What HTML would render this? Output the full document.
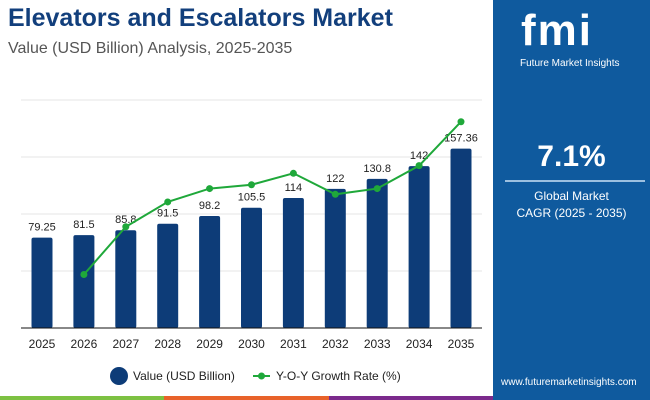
<!DOCTYPE html>
<html><head><meta charset="utf-8"><style>
body{margin:0;width:650px;height:400px;overflow:hidden;background:#fff;font-family:"Liberation Sans",sans-serif;position:relative}
.t{position:absolute;white-space:nowrap}
</style></head><body>
<div class="t" style="left:8px;top:4px;font-size:25px;font-weight:bold;color:#123f7c">Elevators and Escalators Market</div>
<div class="t" style="left:8px;top:40px;font-size:16px;color:#555">Value (USD Billion) Analysis, 2025-2035</div>
<div style="position:absolute;left:493px;top:0;width:157px;height:400px;background:#0f5a9e">
 <div class="t" style="left:28px;top:6px;font-size:44px;font-weight:bold;color:#fff;letter-spacing:2px">fmi</div>
 <div class="t" style="left:27px;top:58px;font-size:10px;color:#fff">Future Market Insights</div>
 <div class="t" style="left:0;width:157px;text-align:center;top:140px;font-size:30px;font-weight:bold;color:#fff">7.1%</div>
 <div style="position:absolute;left:12px;top:180px;width:140px;height:2px;background:#9cc0e0"></div>
 <div class="t" style="left:0;width:157px;text-align:center;top:188px;font-size:12px;line-height:17px;color:#fff">Global Market<br>CAGR (2025 - 2035)</div>
 <div class="t" style="left:8px;top:377px;font-size:10px;color:#fff">www.futuremarketinsights.com</div>
</div>
<div style="position:absolute;left:0;top:396px;width:493px;height:4px;display:flex">
 <div style="flex:1;background:#7dc142"></div><div style="flex:1;background:#e8622a"></div><div style="flex:1;background:#7b2a8c"></div>
</div>
<svg id="c" width="493" height="396" style="position:absolute;left:0;top:0" font-family="Liberation Sans, sans-serif"></svg>
<script>
const years=["2025","2026","2027","2028","2029","2030","2031","2032","2033","2034","2035"];
const values=[79.25,81.5,85.8,91.5,98.2,105.5,114,122,130.8,142,157.36];
const valueLabels=["79.25","81.5","85.8","91.5","98.2","105.5","114","122","130.8","142","157.36"];
const growth=[null,2.8,5.3,6.6,7.3,7.5,8.1,7.0,7.3,8.5,10.8];
const gridVals=[50,100,150,200];
const svg=document.getElementById('c');const NS='http://www.w3.org/2000/svg';
function mk(t,a,p){const e=document.createElementNS(NS,t);for(const k in a)e.setAttribute(k,a[k]);(p||svg).appendChild(e);return e;}
const base=328,x0=21,x1=482;
const xC=i=>42+i*41.9;
const yV=v=>base-v*1.14;
const yG=v=>base-v*19.1;
gridVals.forEach(g=>{const l=mk('line',{x1:x0,x2:x1,y1:yV(g),y2:yV(g),stroke:'#e6e6e6'});

});
values.forEach((v,i)=>{const r=mk('rect',{x:xC(i)-10.5,y:yV(v),width:21,height:v*1.14,fill:'#0d3c78',rx:2});


const t=mk('text',{x:xC(i),y:yV(v)-7,'text-anchor':'middle','font-size':11,fill:'#222'});t.textContent=valueLabels[i];


const y=mk('text',{x:xC(i),y:348,'text-anchor':'middle','font-size':12,fill:'#222'});y.textContent=years[i];

});
const ax=mk('line',{x1:x0,x2:x1,y1:base,y2:base,stroke:'#111','stroke-width':1});


let pts=[];growth.forEach((g,i)=>{if(g!==null)pts.push(xC(i)+','+yG(g));});
const pl=mk('polyline',{points:pts.join(' '),fill:'none',stroke:'#1fa83a','stroke-width':2});


growth.forEach((g,i)=>{if(g===null)return;const c=mk('circle',{cx:xC(i),cy:yG(g),r:3.5,fill:'#1fa83a'});

});
const lg=mk('g',{});


const lc=mk('circle',{cx:119,cy:376,r:9,fill:'#0d3c78'},lg);


const lt=mk('text',{x:133,y:380,'font-size':12,fill:'#222'},lg);lt.textContent='Value (USD Billion)';


const ll=mk('line',{x1:253,x2:270,y1:376,y2:376,stroke:'#1fa83a','stroke-width':2},lg);


mk('circle',{cx:261.5,cy:376,r:3.5,fill:'#1fa83a'},lg);
const lt2=mk('text',{x:276,y:380,'font-size':12,fill:'#222'},lg);lt2.textContent='Y-O-Y Growth Rate (%)';


</script>
</body></html>
